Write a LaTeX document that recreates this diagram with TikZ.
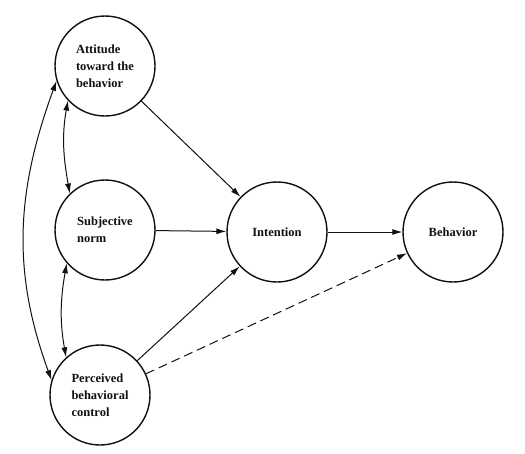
\documentclass[tikz,border=0pt]{standalone}
\usepackage{fontspec}
\setmainfont{Liberation Serif}
\usepackage{xcolor}
\usepackage{tikz}
\usetikzlibrary{arrows.meta}
\definecolor{bg}{HTML}{FFFFFF}
\definecolor{ink}{HTML}{111111}
\tikzset{
  circ/.style={circle, draw=ink, line width=1.4pt, minimum size=100pt, inner sep=0pt, text=ink, font=\fontsize{12.5}{17}\selectfont\bfseries},
  lft/.style={align=left},
  arr/.style={draw=ink, line width=1pt, -{Latex[length=10pt,width=6pt]}},
  twoway/.style={draw=ink, line width=1pt, {Latex[length=10pt,width=6pt]}-{Latex[length=10pt,width=6pt]}},
  dsh/.style={arr, dash pattern=on 9pt off 5pt},
}

\begin{document}
\begin{tikzpicture}[x=1pt,y=-1pt]
  \useasboundingbox[fill=bg] (0,0) rectangle (525,453);
  \node[circ,lft] (att) at (105,66) {Attitude\\toward the\\behavior};
  \node[circ,lft] (sub) at (105,230) {Subjective\\norm};
  \node[circ,lft] (pbc) at (100,395) {Perceived\\behavioral\\control};
  \node[circ] (int) at (277,232) {Intention};
  \node[circ] (beh) at (453,232) {Behavior};
  \draw[arr] (att) -- (int);
  \draw[arr] (sub) -- (int);
  \draw[arr] (pbc) -- (int);
  \draw[arr] (int) -- (beh);
  \draw[dsh] (pbc) -- (beh);
  \draw[twoway] (att.197) to[out=250,in=110] (pbc.163);
  \draw[twoway] (att.223) to[out=260,in=100] (sub.134);
  \draw[twoway] (sub.221) to[out=260,in=100] (pbc.132);
\end{tikzpicture}
\end{document}
